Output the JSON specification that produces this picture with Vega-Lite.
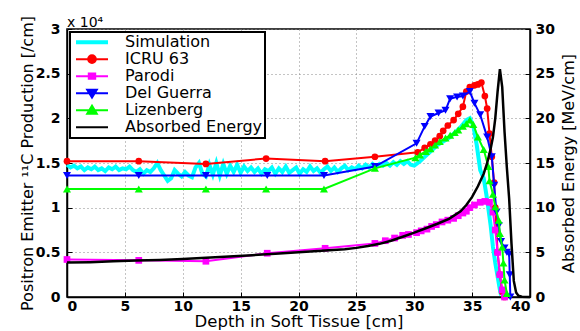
{
  "$schema": "https://vega.github.io/schema/vega-lite/v6.json",
  "width": 463,
  "height": 268,
  "autosize": {"type": "none"},
  "padding": {"left": 67, "top": 29, "right": 50, "bottom": 34},
  "background": "white",
  "title": {"text": "x 10⁴", "anchor": "start", "frame": "group", "font": "DejaVu Sans", "fontSize": 14, "fontWeight": "normal", "offset": 3, "dy": 17, "color": "black"},
  "config": {
    "view": {"stroke": "black", "strokeWidth": 1.5},
    "axis": {
      "labelFont": "DejaVu Sans", "labelFontSize": 14, "labelFontWeight": "bold", "labelColor": "black",
      "titleFont": "DejaVu Sans", "titleFontWeight": "normal", "titleColor": "black", "titleFontSize": 16,
      "domainColor": "black", "domainWidth": 1.5, "tickColor": "black", "tickSize": -5, "tickWidth": 1,
      "gridColor": "#888888", "gridDash": [1, 3], "gridWidth": 1
    }
  },
  "datasets": {
    "prod": [
      {"series": "Simulation", "depth": 0, "value": 1.48}, {"series": "Simulation", "depth": 0.3, "value": 1.45}, {"series": "Simulation", "depth": 0.6, "value": 1.47}, {"series": "Simulation", "depth": 0.9, "value": 1.44}, {"series": "Simulation", "depth": 1.2, "value": 1.46}, {"series": "Simulation", "depth": 1.5, "value": 1.42}, {"series": "Simulation", "depth": 1.8, "value": 1.45}, {"series": "Simulation", "depth": 2.1, "value": 1.43}, {"series": "Simulation", "depth": 2.4, "value": 1.46}, {"series": "Simulation", "depth": 2.7, "value": 1.42}, {"series": "Simulation", "depth": 3.0, "value": 1.44}, {"series": "Simulation", "depth": 3.3, "value": 1.41}, {"series": "Simulation", "depth": 3.6, "value": 1.45}, {"series": "Simulation", "depth": 3.9, "value": 1.43}, {"series": "Simulation", "depth": 4.2, "value": 1.46}, {"series": "Simulation", "depth": 4.5, "value": 1.42}, {"series": "Simulation", "depth": 4.8, "value": 1.44}, {"series": "Simulation", "depth": 5.1, "value": 1.43}, {"series": "Simulation", "depth": 5.4, "value": 1.46}, {"series": "Simulation", "depth": 5.7, "value": 1.42}, {"series": "Simulation", "depth": 6.0, "value": 1.40}, {"series": "Simulation", "depth": 6.3, "value": 1.43}, {"series": "Simulation", "depth": 6.6, "value": 1.38}, {"series": "Simulation", "depth": 6.9, "value": 1.42}, {"series": "Simulation", "depth": 7.2, "value": 1.40}, {"series": "Simulation", "depth": 7.5, "value": 1.44}, {"series": "Simulation", "depth": 7.8, "value": 1.50}, {"series": "Simulation", "depth": 8.1, "value": 1.42}, {"series": "Simulation", "depth": 8.4, "value": 1.36}, {"series": "Simulation", "depth": 8.7, "value": 1.30}, {"series": "Simulation", "depth": 9.0, "value": 1.33}, {"series": "Simulation", "depth": 9.3, "value": 1.42}, {"series": "Simulation", "depth": 9.6, "value": 1.38}, {"series": "Simulation", "depth": 9.9, "value": 1.35}, {"series": "Simulation", "depth": 10.2, "value": 1.40}, {"series": "Simulation", "depth": 10.5, "value": 1.36}, {"series": "Simulation", "depth": 10.8, "value": 1.34}, {"series": "Simulation", "depth": 11.1, "value": 1.45}, {"series": "Simulation", "depth": 11.4, "value": 1.50}, {"series": "Simulation", "depth": 11.7, "value": 1.38}, {"series": "Simulation", "depth": 12.0, "value": 1.35}, {"series": "Simulation", "depth": 12.3, "value": 1.48}, {"series": "Simulation", "depth": 12.6, "value": 1.37}, {"series": "Simulation", "depth": 12.9, "value": 1.50}, {"series": "Simulation", "depth": 13.2, "value": 1.36}, {"series": "Simulation", "depth": 13.5, "value": 1.49}, {"series": "Simulation", "depth": 13.8, "value": 1.38}, {"series": "Simulation", "depth": 14.1, "value": 1.47}, {"series": "Simulation", "depth": 14.4, "value": 1.40}, {"series": "Simulation", "depth": 14.7, "value": 1.48}, {"series": "Simulation", "depth": 15.0, "value": 1.39}, {"series": "Simulation", "depth": 15.3, "value": 1.46}, {"series": "Simulation", "depth": 15.6, "value": 1.41}, {"series": "Simulation", "depth": 15.9, "value": 1.45}, {"series": "Simulation", "depth": 16.2, "value": 1.40}, {"series": "Simulation", "depth": 16.5, "value": 1.44}, {"series": "Simulation", "depth": 16.8, "value": 1.38}, {"series": "Simulation", "depth": 17.1, "value": 1.43}, {"series": "Simulation", "depth": 17.4, "value": 1.41}, {"series": "Simulation", "depth": 17.7, "value": 1.45}, {"series": "Simulation", "depth": 18.0, "value": 1.38}, {"series": "Simulation", "depth": 18.3, "value": 1.44}, {"series": "Simulation", "depth": 18.6, "value": 1.40}, {"series": "Simulation", "depth": 18.9, "value": 1.46}, {"series": "Simulation", "depth": 19.2, "value": 1.39}, {"series": "Simulation", "depth": 19.5, "value": 1.42}, {"series": "Simulation", "depth": 19.8, "value": 1.45}, {"series": "Simulation", "depth": 20.1, "value": 1.38}, {"series": "Simulation", "depth": 20.4, "value": 1.43}, {"series": "Simulation", "depth": 20.7, "value": 1.40}, {"series": "Simulation", "depth": 21.0, "value": 1.46}, {"series": "Simulation", "depth": 21.3, "value": 1.41}, {"series": "Simulation", "depth": 21.6, "value": 1.44}, {"series": "Simulation", "depth": 21.9, "value": 1.39}, {"series": "Simulation", "depth": 22.2, "value": 1.43}, {"series": "Simulation", "depth": 22.5, "value": 1.46}, {"series": "Simulation", "depth": 22.8, "value": 1.41}, {"series": "Simulation", "depth": 23.1, "value": 1.45}, {"series": "Simulation", "depth": 23.4, "value": 1.40}, {"series": "Simulation", "depth": 23.7, "value": 1.44}, {"series": "Simulation", "depth": 24.0, "value": 1.47}, {"series": "Simulation", "depth": 24.3, "value": 1.42}, {"series": "Simulation", "depth": 24.6, "value": 1.45}, {"series": "Simulation", "depth": 24.9, "value": 1.43}, {"series": "Simulation", "depth": 25.2, "value": 1.47}, {"series": "Simulation", "depth": 25.5, "value": 1.44}, {"series": "Simulation", "depth": 25.8, "value": 1.48}, {"series": "Simulation", "depth": 26.1, "value": 1.45}, {"series": "Simulation", "depth": 26.4, "value": 1.49}, {"series": "Simulation", "depth": 26.7, "value": 1.46}, {"series": "Simulation", "depth": 27.0, "value": 1.49}, {"series": "Simulation", "depth": 27.3, "value": 1.47}, {"series": "Simulation", "depth": 27.6, "value": 1.50}, {"series": "Simulation", "depth": 27.9, "value": 1.47}, {"series": "Simulation", "depth": 28.2, "value": 1.51}, {"series": "Simulation", "depth": 28.5, "value": 1.48}, {"series": "Simulation", "depth": 28.8, "value": 1.52}, {"series": "Simulation", "depth": 29.1, "value": 1.49}, {"series": "Simulation", "depth": 29.4, "value": 1.52}, {"series": "Simulation", "depth": 29.7, "value": 1.48}, {"series": "Simulation", "depth": 30.0, "value": 1.47}, {"series": "Simulation", "depth": 30.5, "value": 1.52}, {"series": "Simulation", "depth": 31.0, "value": 1.58}, {"series": "Simulation", "depth": 31.5, "value": 1.64}, {"series": "Simulation", "depth": 32.0, "value": 1.70}, {"series": "Simulation", "depth": 32.5, "value": 1.74}, {"series": "Simulation", "depth": 33.0, "value": 1.78}, {"series": "Simulation", "depth": 33.5, "value": 1.84}, {"series": "Simulation", "depth": 34.0, "value": 1.90}, {"series": "Simulation", "depth": 34.5, "value": 1.98}, {"series": "Simulation", "depth": 34.8, "value": 2.0}, {"series": "Simulation", "depth": 35.1, "value": 1.92}, {"series": "Simulation", "depth": 35.4, "value": 1.70}, {"series": "Simulation", "depth": 35.7, "value": 1.42}, {"series": "Simulation", "depth": 36.0, "value": 1.33}, {"series": "Simulation", "depth": 36.3, "value": 1.09}, {"series": "Simulation", "depth": 36.6, "value": 0.80}, {"series": "Simulation", "depth": 36.8, "value": 0.56}, {"series": "Simulation", "depth": 37.0, "value": 0.38}, {"series": "Simulation", "depth": 37.2, "value": 0.23}, {"series": "Simulation", "depth": 37.4, "value": 0.08}, {"series": "Simulation", "depth": 37.5, "value": 0.02},

      {"series": "ICRU 63", "depth": 0, "value": 1.52}, {"series": "ICRU 63", "depth": 6.2, "value": 1.52}, {"series": "ICRU 63", "depth": 12.0, "value": 1.49}, {"series": "ICRU 63", "depth": 17.2, "value": 1.55}, {"series": "ICRU 63", "depth": 22.3, "value": 1.52}, {"series": "ICRU 63", "depth": 26.6, "value": 1.57}, {"series": "ICRU 63", "depth": 30.3, "value": 1.62}, {"series": "ICRU 63", "depth": 30.9, "value": 1.67}, {"series": "ICRU 63", "depth": 31.4, "value": 1.71}, {"series": "ICRU 63", "depth": 31.8, "value": 1.75}, {"series": "ICRU 63", "depth": 32.2, "value": 1.80}, {"series": "ICRU 63", "depth": 32.5, "value": 1.86}, {"series": "ICRU 63", "depth": 32.9, "value": 1.92}, {"series": "ICRU 63", "depth": 33.4, "value": 1.98}, {"series": "ICRU 63", "depth": 33.8, "value": 2.05}, {"series": "ICRU 63", "depth": 34.2, "value": 2.13}, {"series": "ICRU 63", "depth": 34.5, "value": 2.30}, {"series": "ICRU 63", "depth": 34.8, "value": 2.35}, {"series": "ICRU 63", "depth": 35.2, "value": 2.37}, {"series": "ICRU 63", "depth": 35.5, "value": 2.38}, {"series": "ICRU 63", "depth": 35.8, "value": 2.40}, {"series": "ICRU 63", "depth": 36.1, "value": 2.25}, {"series": "ICRU 63", "depth": 36.3, "value": 2.11}, {"series": "ICRU 63", "depth": 36.5, "value": 1.83}, {"series": "ICRU 63", "depth": 36.7, "value": 1.57}, {"series": "ICRU 63", "depth": 36.9, "value": 1.28}, {"series": "ICRU 63", "depth": 37.0, "value": 1.0}, {"series": "ICRU 63", "depth": 37.1, "value": 0.75}, {"series": "ICRU 63", "depth": 37.2, "value": 0.50}, {"series": "ICRU 63", "depth": 37.4, "value": 0.25}, {"series": "ICRU 63", "depth": 37.6, "value": 0.06}, {"series": "ICRU 63", "depth": 37.8, "value": 0.0},

      {"series": "Parodi", "depth": 0, "value": 0.42}, {"series": "Parodi", "depth": 6.2, "value": 0.41}, {"series": "Parodi", "depth": 12.0, "value": 0.40}, {"series": "Parodi", "depth": 17.3, "value": 0.49}, {"series": "Parodi", "depth": 22.3, "value": 0.545}, {"series": "Parodi", "depth": 26.6, "value": 0.60}, {"series": "Parodi", "depth": 27.5, "value": 0.63}, {"series": "Parodi", "depth": 28.3, "value": 0.66}, {"series": "Parodi", "depth": 29.0, "value": 0.69}, {"series": "Parodi", "depth": 29.5, "value": 0.70}, {"series": "Parodi", "depth": 30.2, "value": 0.72}, {"series": "Parodi", "depth": 30.6, "value": 0.74}, {"series": "Parodi", "depth": 31.1, "value": 0.76}, {"series": "Parodi", "depth": 31.5, "value": 0.79}, {"series": "Parodi", "depth": 31.9, "value": 0.81}, {"series": "Parodi", "depth": 32.4, "value": 0.84}, {"series": "Parodi", "depth": 32.9, "value": 0.86}, {"series": "Parodi", "depth": 33.4, "value": 0.88}, {"series": "Parodi", "depth": 33.8, "value": 0.91}, {"series": "Parodi", "depth": 34.2, "value": 0.94}, {"series": "Parodi", "depth": 34.5, "value": 0.96}, {"series": "Parodi", "depth": 34.8, "value": 1.0}, {"series": "Parodi", "depth": 35.2, "value": 1.03}, {"series": "Parodi", "depth": 35.7, "value": 1.06}, {"series": "Parodi", "depth": 36.1, "value": 1.07}, {"series": "Parodi", "depth": 36.5, "value": 1.06}, {"series": "Parodi", "depth": 36.8, "value": 0.95}, {"series": "Parodi", "depth": 37.0, "value": 0.75}, {"series": "Parodi", "depth": 37.2, "value": 0.50}, {"series": "Parodi", "depth": 37.4, "value": 0.25}, {"series": "Parodi", "depth": 37.6, "value": 0.08}, {"series": "Parodi", "depth": 37.8, "value": 0.0},

      {"series": "Del Guerra", "depth": 0, "value": 1.36}, {"series": "Del Guerra", "depth": 6.2, "value": 1.36}, {"series": "Del Guerra", "depth": 12.0, "value": 1.36}, {"series": "Del Guerra", "depth": 17.3, "value": 1.36}, {"series": "Del Guerra", "depth": 22.2, "value": 1.36}, {"series": "Del Guerra", "depth": 26.6, "value": 1.46}, {"series": "Del Guerra", "depth": 30.2, "value": 1.72}, {"series": "Del Guerra", "depth": 30.9, "value": 1.91}, {"series": "Del Guerra", "depth": 31.4, "value": 2.02}, {"series": "Del Guerra", "depth": 32.1, "value": 2.06}, {"series": "Del Guerra", "depth": 32.7, "value": 2.09}, {"series": "Del Guerra", "depth": 33.1, "value": 2.22}, {"series": "Del Guerra", "depth": 33.7, "value": 2.24}, {"series": "Del Guerra", "depth": 34.2, "value": 2.25}, {"series": "Del Guerra", "depth": 34.8, "value": 2.30}, {"series": "Del Guerra", "depth": 35.2, "value": 2.17}, {"series": "Del Guerra", "depth": 35.7, "value": 2.04}, {"series": "Del Guerra", "depth": 36.3, "value": 1.79}, {"series": "Del Guerra", "depth": 36.7, "value": 1.57}, {"series": "Del Guerra", "depth": 36.9, "value": 1.25}, {"series": "Del Guerra", "depth": 37.1, "value": 0.95}, {"series": "Del Guerra", "depth": 37.3, "value": 0.80}, {"series": "Del Guerra", "depth": 37.5, "value": 0.62}, {"series": "Del Guerra", "depth": 37.8, "value": 0.55}, {"series": "Del Guerra", "depth": 38.0, "value": 0.50}, {"series": "Del Guerra", "depth": 38.2, "value": 0.48}, {"series": "Del Guerra", "depth": 38.25, "value": 0.25}, {"series": "Del Guerra", "depth": 38.3, "value": 0.0},

      {"series": "Lizenberg", "depth": 0, "value": 1.21}, {"series": "Lizenberg", "depth": 6.2, "value": 1.21}, {"series": "Lizenberg", "depth": 12.0, "value": 1.21}, {"series": "Lizenberg", "depth": 17.2, "value": 1.21}, {"series": "Lizenberg", "depth": 22.2, "value": 1.21}, {"series": "Lizenberg", "depth": 26.6, "value": 1.44}, {"series": "Lizenberg", "depth": 30.1, "value": 1.56}, {"series": "Lizenberg", "depth": 30.5, "value": 1.59}, {"series": "Lizenberg", "depth": 31.0, "value": 1.63}, {"series": "Lizenberg", "depth": 31.4, "value": 1.66}, {"series": "Lizenberg", "depth": 31.8, "value": 1.70}, {"series": "Lizenberg", "depth": 32.2, "value": 1.74}, {"series": "Lizenberg", "depth": 32.7, "value": 1.78}, {"series": "Lizenberg", "depth": 33.1, "value": 1.81}, {"series": "Lizenberg", "depth": 33.5, "value": 1.84}, {"series": "Lizenberg", "depth": 33.8, "value": 1.87}, {"series": "Lizenberg", "depth": 34.2, "value": 1.91}, {"series": "Lizenberg", "depth": 34.5, "value": 1.94}, {"series": "Lizenberg", "depth": 34.8, "value": 1.98}, {"series": "Lizenberg", "depth": 35.1, "value": 1.93}, {"series": "Lizenberg", "depth": 35.5, "value": 1.79}, {"series": "Lizenberg", "depth": 36.0, "value": 1.65}, {"series": "Lizenberg", "depth": 36.4, "value": 1.46}, {"series": "Lizenberg", "depth": 36.5, "value": 1.30}, {"series": "Lizenberg", "depth": 36.8, "value": 1.15}, {"series": "Lizenberg", "depth": 37.0, "value": 1.01}, {"series": "Lizenberg", "depth": 37.3, "value": 0.86}, {"series": "Lizenberg", "depth": 37.4, "value": 0.71}, {"series": "Lizenberg", "depth": 37.6, "value": 0.56}, {"series": "Lizenberg", "depth": 37.7, "value": 0.38}, {"series": "Lizenberg", "depth": 37.8, "value": 0.19}, {"series": "Lizenberg", "depth": 38.0, "value": 0.04}
    ],
    "energy": [
      {"series": "Absorbed Energy", "depth": 0, "energy": 3.85}, {"series": "Absorbed Energy", "depth": 2, "energy": 3.9}, {"series": "Absorbed Energy", "depth": 4, "energy": 4.0}, {"series": "Absorbed Energy", "depth": 6, "energy": 4.08}, {"series": "Absorbed Energy", "depth": 8, "energy": 4.15}, {"series": "Absorbed Energy", "depth": 10, "energy": 4.25}, {"series": "Absorbed Energy", "depth": 12, "energy": 4.38}, {"series": "Absorbed Energy", "depth": 14, "energy": 4.52}, {"series": "Absorbed Energy", "depth": 16, "energy": 4.68}, {"series": "Absorbed Energy", "depth": 18, "energy": 4.85}, {"series": "Absorbed Energy", "depth": 20, "energy": 5.0}, {"series": "Absorbed Energy", "depth": 22, "energy": 5.18}, {"series": "Absorbed Energy", "depth": 24, "energy": 5.35}, {"series": "Absorbed Energy", "depth": 25, "energy": 5.5}, {"series": "Absorbed Energy", "depth": 26, "energy": 5.7}, {"series": "Absorbed Energy", "depth": 27, "energy": 5.95}, {"series": "Absorbed Energy", "depth": 28, "energy": 6.3}, {"series": "Absorbed Energy", "depth": 29, "energy": 6.75}, {"series": "Absorbed Energy", "depth": 30, "energy": 7.2}, {"series": "Absorbed Energy", "depth": 31, "energy": 7.7}, {"series": "Absorbed Energy", "depth": 32, "energy": 8.2}, {"series": "Absorbed Energy", "depth": 33, "energy": 8.75}, {"series": "Absorbed Energy", "depth": 34, "energy": 9.6}, {"series": "Absorbed Energy", "depth": 34.5, "energy": 10.3}, {"series": "Absorbed Energy", "depth": 35, "energy": 11.2}, {"series": "Absorbed Energy", "depth": 35.5, "energy": 12.4}, {"series": "Absorbed Energy", "depth": 36, "energy": 13.8}, {"series": "Absorbed Energy", "depth": 36.3, "energy": 15.0}, {"series": "Absorbed Energy", "depth": 36.6, "energy": 16.6}, {"series": "Absorbed Energy", "depth": 36.8, "energy": 17.9}, {"series": "Absorbed Energy", "depth": 37.0, "energy": 20.0}, {"series": "Absorbed Energy", "depth": 37.2, "energy": 23.0}, {"series": "Absorbed Energy", "depth": 37.4, "energy": 25.5}, {"series": "Absorbed Energy", "depth": 37.6, "energy": 23.5}, {"series": "Absorbed Energy", "depth": 37.8, "energy": 18.5}, {"series": "Absorbed Energy", "depth": 38.0, "energy": 14.5}, {"series": "Absorbed Energy", "depth": 38.2, "energy": 11.0}, {"series": "Absorbed Energy", "depth": 38.4, "energy": 6.0}, {"series": "Absorbed Energy", "depth": 38.6, "energy": 1.8}, {"series": "Absorbed Energy", "depth": 38.8, "energy": 0.5}, {"series": "Absorbed Energy", "depth": 39.0, "energy": 0.15}, {"series": "Absorbed Energy", "depth": 39.3, "energy": 0.03}, {"series": "Absorbed Energy", "depth": 40, "energy": 0}
    ]
  },
  "resolve": {"scale": {"y": "independent"}},
  "layer": [
    {
      "data": {"name": "prod"},
      "encoding": {
        "x": {"field": "depth", "type": "quantitative", "scale": {"domain": [0, 40], "nice": false},
              "axis": {"values": [0, 5, 10, 15, 20, 25, 30, 35, 40], "grid": true, "title": "Depth in Soft Tissue  [cm]", "titleFontSize": 16.5, "labelPadding": 7, "titlePadding": 0}},
        "y": {"field": "value", "type": "quantitative", "scale": {"domain": [0, 3], "nice": false},
              "axis": {"values": [0, 0.5, 1, 1.5, 2, 2.5, 3], "format": "~g", "grid": true, "title": "Positron Emitter ¹¹C Production [/cm]", "labelPadding": 12, "titlePadding": 0}},
        "color": {"field": "series", "type": "nominal",
          "scale": {"domain": ["Simulation", "ICRU 63", "Parodi", "Del Guerra", "Lizenberg", "Absorbed Energy"], "range": ["#00FFFF", "#FF0000", "#FF00FF", "#0000FF", "#00FF00", "#000000"]},
          "legend": {
            "title": null, "orient": "top-left", "offset": 3, "padding": 2,
            "fillColor": "white", "strokeColor": "black",
            "labelFont": "DejaVu Sans", "labelFontSize": 16, "labelColor": "black",
            "symbolSize": 1024, "symbolOffset": 12, "labelOffset": 25, "clipHeight": 16.3, "rowPadding": 0,
            "symbolStrokeWidth": 2,
            "encode": {
              "symbols": {"update": {
                "shape": {"signal": "datum.value === 'ICRU 63' ? 'M-1,0H1M-0.24,0A0.24,0.24,0,1,1,0.24,0A0.24,0.24,0,1,1,-0.24,0Z' : datum.value === 'Parodi' ? 'M-1,0H1M-0.2,-0.17H0.2V0.17H-0.2Z' : datum.value === 'Del Guerra' ? 'M-1,0H1M-0.3,-0.22H0.3L0,0.28Z' : datum.value === 'Lizenberg' ? 'M-1,0H1M-0.3,0.22H0.3L0,-0.28Z' : 'M-1,0H1'"},
                "fill": {"signal": "scale('color', datum.value)"},
                "stroke": {"signal": "scale('color', datum.value)"},
                "strokeWidth": {"signal": "datum.value === 'Simulation' ? 4 : 2"},
                "opacity": {"value": 1}, "fillOpacity": {"value": 1}, "strokeOpacity": {"value": 1}
              }},
              "legend": {"update": {"strokeWidth": {"value": 2}}}
            }
          }
        }
      },
      "layer": [
        {"transform": [{"filter": "datum.series === 'Simulation'"}], "mark": {"type": "line", "strokeWidth": 4}},
        {"transform": [{"filter": "datum.series === 'ICRU 63'"}], "mark": {"type": "line", "strokeWidth": 2}},
        {"transform": [{"filter": "datum.series === 'ICRU 63'"}], "mark": {"type": "point", "shape": "circle", "filled": true, "size": 45, "opacity": 1}},
        {"transform": [{"filter": "datum.series === 'Parodi'"}], "mark": {"type": "line", "strokeWidth": 2}},
        {"transform": [{"filter": "datum.series === 'Parodi'"}], "mark": {"type": "point", "shape": "square", "filled": true, "size": 45, "opacity": 1}},
        {"transform": [{"filter": "datum.series === 'Del Guerra'"}], "mark": {"type": "line", "strokeWidth": 2}},
        {"transform": [{"filter": "datum.series === 'Del Guerra'"}], "mark": {"type": "point", "shape": "triangle-down", "filled": true, "size": 65, "opacity": 1}},
        {"transform": [{"filter": "datum.series === 'Lizenberg'"}], "mark": {"type": "line", "strokeWidth": 2}},
        {"transform": [{"filter": "datum.series === 'Lizenberg'"}], "mark": {"type": "point", "shape": "triangle-up", "filled": true, "size": 65, "opacity": 1}}
      ]
    },
    {
      "data": {"name": "energy"},
      "mark": {"type": "line", "strokeWidth": 2.5},
      "encoding": {
        "x": {"field": "depth", "type": "quantitative", "scale": {"domain": [0, 40], "nice": false}},
        "y": {"field": "energy", "type": "quantitative", "scale": {"domain": [0, 30], "nice": false},
              "axis": {"orient": "right", "values": [0, 5, 10, 15, 20, 25, 30], "grid": false, "title": "Absorbed Energy [MeV/cm]", "titleAngle": 270, "labelPadding": 10, "titlePadding": 22}},
        "color": {"field": "series", "type": "nominal"}
      }
    }
  ]
}
